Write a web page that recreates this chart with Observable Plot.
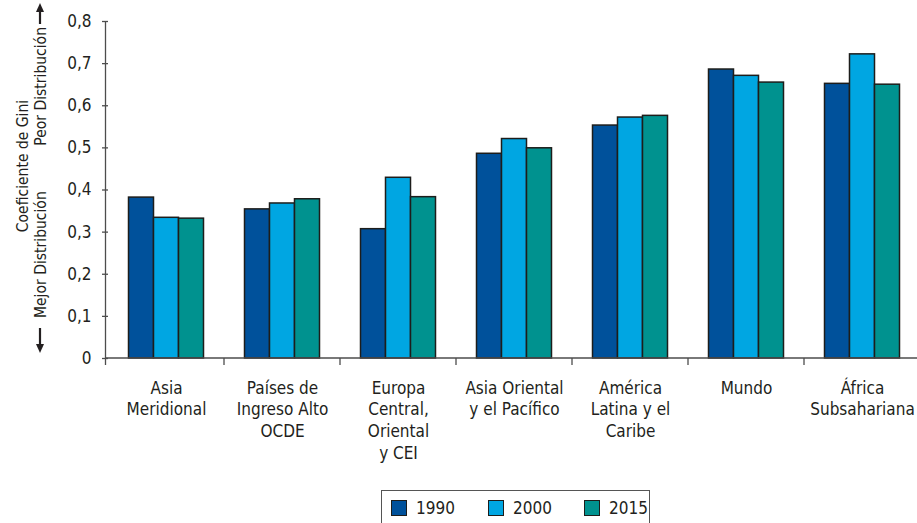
<!DOCTYPE html>
<html>
<head>
<meta charset="utf-8">
<script src="https://cdn.jsdelivr.net/npm/d3@7"></script>
<script src="https://cdn.jsdelivr.net/npm/@observablehq/plot@0.6"></script>
<style>
  html, body { margin: 0; padding: 0; background: #fff; overflow: hidden; }
  body { font-family: "Liberation Sans Narrow", "DejaVu Sans Condensed", sans-serif; color: #231f20; }
  #wrap { position: relative; width: 917px; height: 523px; }
  #legend { position: absolute; left: 381px; top: 490px; width: 269px; height: 44px;
            border: 1px solid #555; box-sizing: border-box; }
  .item { position: absolute; top: 9px; display: flex; align-items: center; font-size: 17px; line-height: 16px; }
  .sw { width: 14px; height: 14px; border: 1px solid #1d1d1b; margin-right: 9px; }
</style>
</head>
<body>
<div id="wrap">
  <div id="chart"></div>
  <div id="legend"></div>
</div>
<script>
// Gini coefficient by region, 1990 / 2000 / 2015
const categories = [
  "Asia\nMeridional",
  "Países de\nIngreso Alto\nOCDE",
  "Europa\nCentral,\nOriental\ny CEI",
  "Asia Oriental\ny el Pacífico",
  "América\nLatina y el\nCaribe",
  "Mundo",
  "África\nSubsahariana"
];
const years = ["1990", "2000", "2015"];
const gini1990 = [0.382, 0.354, 0.307, 0.486, 0.553, 0.686, 0.652];
const gini2000 = [0.334, 0.368, 0.429, 0.521, 0.572, 0.671, 0.722];
const gini2015 = [0.332, 0.378, 0.383, 0.499, 0.576, 0.655, 0.650];
const yearColors = ["#00519b", "#00a6e2", "#00928f"];
const yTicks = [0, 0.1, 0.2, 0.3, 0.4, 0.5, 0.6, 0.7, 0.8];

const FONT = '"Liberation Sans Narrow", "DejaVu Sans Condensed", sans-serif';
const series = [gini1990, gini2000, gini2015];
const rows = categories.flatMap((c, i) =>
  years.map((yr, j) => ({category: c, year: yr, value: series[j][i]}))
);
const fmt = d => d === 0 ? "0" : d.toFixed(1).replace(".", ",");

const chart = Plot.plot({
  width: 917,
  height: 485,
  marginTop: 21,
  marginBottom: 127,
  marginLeft: 105.5,
  marginRight: 0,
  style: {fontFamily: FONT, fontSize: "17px", color: "#231f20", background: "#fff", overflow: "visible"},
  fx: {domain: categories, padding: 0, range: [105.5, 923], label: null},
  x: {domain: years, paddingInner: 0, paddingOuter: 0.75, axis: null},
  y: {domain: [0, 0.8], axis: null},
  color: {domain: years, range: yearColors},
  marks: [
    Plot.axisY({ticks: yTicks, tickSize: 6, tickPadding: 11, tickFormat: fmt,
                fontSize: 17, label: null, stroke: "#4d4d4d", strokeWidth: 1.3}),
    Plot.axisFx({anchor: "bottom", tickSize: 0, tickPadding: 20, lineHeight: 1.27, fontSize: 17, label: null}),
    Plot.barY(rows, {fx: "category", x: "year", y: "value", fill: "year",
                     stroke: "#1d1d1b", strokeWidth: 1.5})
  ]
});
document.getElementById("chart").appendChild(chart);

// Axis lines and the ticks between region groups, placed from the plot's scales
const svg = d3.select(chart);
const ys = chart.scale("y");
const fxs = chart.scale("fx");
const y0 = ys.apply(0), yTop = ys.apply(0.8);
const axisX0 = fxs.range[0];
const axes = svg.append("g").attr("stroke", "#4d4d4d").attr("stroke-width", 1.3);
axes.append("line").attr("x1", axisX0).attr("x2", 917).attr("y1", y0).attr("y2", y0);
axes.append("line").attr("x1", axisX0).attr("x2", axisX0).attr("y1", yTop).attr("y2", y0 + 7);
categories.forEach(c => {
  const x = fxs.apply(c) + fxs.bandwidth;
  axes.append("line").attr("x1", x).attr("x2", x).attr("y1", y0).attr("y2", y0 + 7);
});

// Rotated y-axis title with direction arrows
const title = svg.append("g").attr("fill", "#231f20").style("font-family", FONT).style("font-size", "15.5px");
title.append("text").attr("transform", "translate(28,166) rotate(-90)")
  .attr("text-anchor", "middle").text("Coeficiente de Gini");
title.append("text").attr("transform", "translate(46,27) rotate(-90)")
  .attr("text-anchor", "end").text("Peor Distribución");
title.append("text").attr("transform", "translate(46,318) rotate(-90)")
  .attr("text-anchor", "start").text("Mejor Distribución");
const ax = 40;
const arrows = svg.append("g").attr("stroke", "#231f20").attr("fill", "#231f20");
arrows.append("line").attr("x1", ax).attr("x2", ax).attr("y1", 24).attr("y2", 10).attr("stroke-width", 2.2);
arrows.append("path").attr("d", `M${ax - 4},12 L${ax},3 L${ax + 4},12 Z`).attr("stroke", "none");
arrows.append("line").attr("x1", ax).attr("x2", ax).attr("y1", 328).attr("y2", 346).attr("stroke-width", 2.2);
arrows.append("path").attr("d", `M${ax - 4},344 L${ax},353 L${ax + 4},344 Z`).attr("stroke", "none");

// Legend
const legend = d3.select("#legend");
const offsets = [9, 106, 202];
years.forEach((yr, j) => {
  const it = legend.append("div").attr("class", "item").style("left", offsets[j] + "px");
  it.append("div").attr("class", "sw").style("background", yearColors[j]);
  it.append("span").text(yr);
});
</script>
</body>
</html>
